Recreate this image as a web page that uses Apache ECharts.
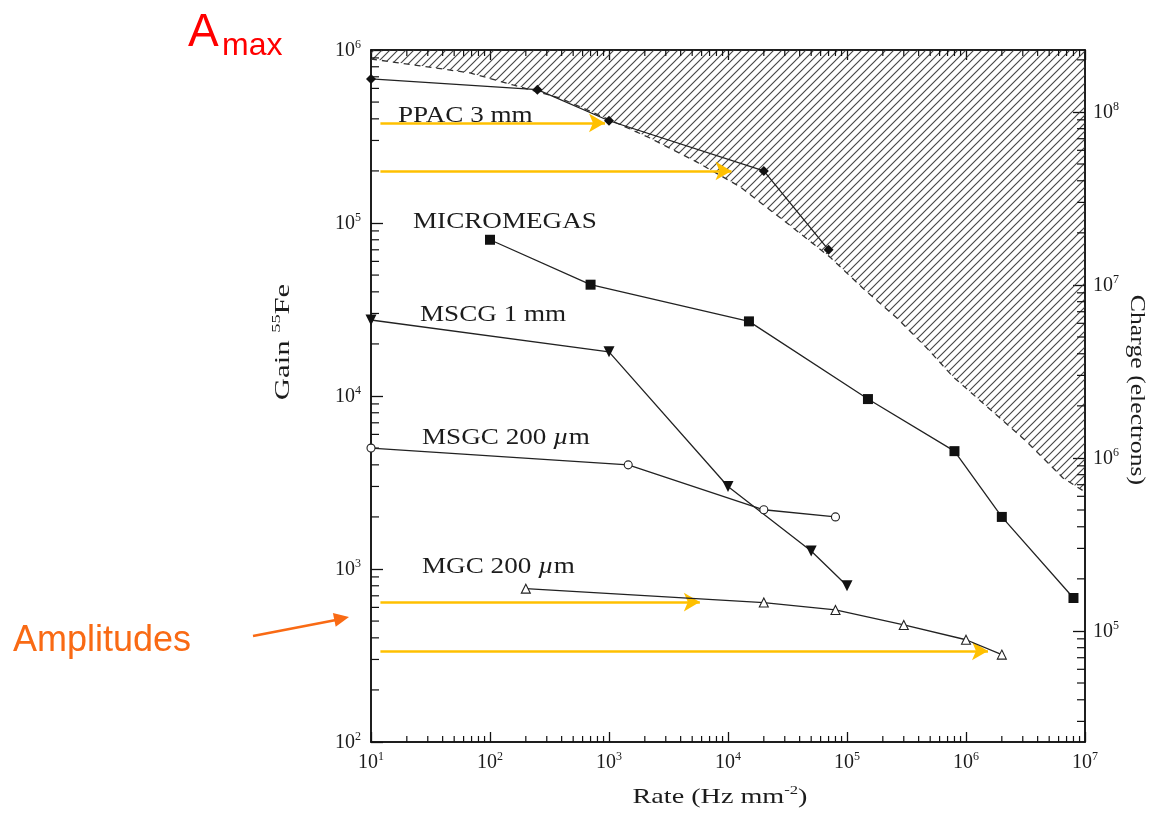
<!DOCTYPE html>
<html>
<head>
<meta charset="utf-8">
<script src="https://cdn.jsdelivr.net/npm/echarts@6/dist/echarts.min.js"></script>
<style>
  html, body { margin: 0; padding: 0; background: #fff; }
  #chart { width: 1155px; height: 816px; }
</style>
</head>
<body>
<div id="chart"></div>
<script>
// Rate (Hz mm^-2) and gain values for each detector
const ppacX = [10, 250, 1000, 2.0e4, 7.0e4];
const ppacY = [6.8e5, 5.9e5, 3.9e5, 2.0e5, 7.0e4];

const micromegasX = [100, 700, 1.5e4, 1.5e5, 8.0e5, 2.0e6, 8.0e6];
const micromegasY = [8.0e4, 4.4e4, 2.7e4, 9.6e3, 4.8e3, 2.0e3, 680];

const mscgX = [10, 1000, 1.0e4, 5.0e4, 1.0e5];
const mscgY = [2.75e4, 1.8e4, 3.0e3, 1.27e3, 800];

const msgcX = [10, 1450, 2.0e4, 8.0e4];
const msgcY = [5.0e3, 4.0e3, 2.2e3, 2.0e3];

const mgcX = [200, 2.0e4, 8.0e4, 3.0e5, 1.0e6, 2.0e6];
const mgcY = [770, 640, 580, 475, 390, 320];

// Space-charge limit (dashed boundary of the hatched region)
const limitX = [10, 26, 68, 156, 387, 1020, 2210, 5490, 1.26e4, 3.13e4, 7.2e4, 1.36e5, 2.63e5, 4.7e5, 7.8e5, 1.93e6, 3.26e6, 6.53e6, 1.0e7];
const limitY = [8.87e5, 8.1e5, 7.37e5, 6.28e5, 5.28e5, 3.94e5, 3.1e5, 2.25e5, 1.62e5, 1.0e5, 6.35e4, 4.2e4, 2.82e4, 1.89e4, 1.29e4, 7.46e3, 5.42e3, 3.36e3, 2.79e3];

// Amplitude arrows: [start rate, end rate, gain]
const arrowStartX = [12, 12, 12, 12];
const arrowEndX = [925, 1.07e4, 5.8e3, 1.53e6];
const arrowY = [3.79e5, 2.0e5, 644, 336];

// Axis ranges and tick values
const rateRange = [10, 1e7];
const gainRange = [100, 1e6];
const chargePerGain = 228; // electrons per unit gain for a 55Fe photon
const chargeRange = [gainRange[0] * chargePerGain, gainRange[1] * chargePerGain];
const mantissas = [2, 3, 4, 5, 6, 7, 8, 9];

function minorTicks(lo, hi) {
  const out = [];
  for (let e = Math.floor(Math.log10(lo)); e <= Math.ceil(Math.log10(hi)); e++) {
    for (const m of mantissas) {
      const v = m * Math.pow(10, e);
      if (v > lo && v < hi) out.push(v);
    }
  }
  return out;
}
const rateMinor = minorTicks(rateRange[0], rateRange[1]);
const gainMinor = minorTicks(gainRange[0], gainRange[1]);
const chargeMinor = minorTicks(chargeRange[0], chargeRange[1]);

const zip = (xs, ys) => xs.map((x, i) => [x, ys[i]]);

const SERIF = '"Liberation Serif", "Times New Roman", serif';
const SANS = '"Liberation Sans", Arial, sans-serif';
const INK = '#1c1c1c';

// Diagonal hatching for the forbidden region
const hatch = document.createElement('canvas');
hatch.width = 8; hatch.height = 8;
(function () {
  const c = hatch.getContext('2d');
  c.strokeStyle = 'rgba(50,50,50,0.9)';
  c.lineWidth = 1.15;
  c.beginPath();
  c.moveTo(0, 8); c.lineTo(8, 0);
  c.moveTo(-1, 1); c.lineTo(1, -1);
  c.moveTo(7, 9); c.lineTo(9, 7);
  c.stroke();
})();

const powLabel = v => {
  const e = Math.log10(v);
  if (Math.abs(e - Math.round(e)) > 1e-6) return '';
  return '{b|10}{s|' + Math.round(e) + '}';
};
const powRich = {
  b: { fontFamily: SERIF, fontSize: 20, color: INK, lineHeight: 22, verticalAlign: 'bottom' },
  s: { fontFamily: SERIF, fontSize: 12, color: INK, lineHeight: 12, verticalAlign: 'top' }
};
const titleRich = {
  n: { fontFamily: SERIF, fontSize: 22, fill: INK, lineHeight: 24, verticalAlign: 'bottom' },
  s: { fontFamily: SERIF, fontSize: 13, fill: INK, lineHeight: 13, verticalAlign: 'top' }
};
const nameRich = {
  n: { font: '24px ' + SERIF, fill: INK },
  i: { font: 'italic 24px ' + SERIF, fill: INK }
};

const axisLineStyle = { color: '#111', width: 1.5 };

const chart = echarts.init(document.getElementById('chart'));

const lineSeries = (name, xs, ys, symbol, size, filled, extra) => Object.assign({
  name, type: 'line', data: zip(xs, ys),
  symbol, symbolSize: size,
  lineStyle: { color: '#222', width: 1.3 },
  itemStyle: filled ? { color: '#111' } : { color: '#fff', borderColor: '#222', borderWidth: 1.1 },
  z: 5, animation: false
}, extra || {});

const nameText = (x, y, text) => ({
  type: 'text', x, y, scaleX: 1.13, z: 10,
  style: { text, textVerticalAlign: 'middle', rich: nameRich }
});

chart.setOption({
  animation: false,
  backgroundColor: '#fff',
  grid: { left: 371, right: 70, top: 50, bottom: 74, show: true, borderColor: '#111', borderWidth: 1.5 },
  xAxis: [
    {
      type: 'log', logBase: 10, min: rateRange[0], max: rateRange[1], position: 'bottom',
      axisLine: { show: true, lineStyle: axisLineStyle },
      axisTick: { show: true, inside: true, length: 10, lineStyle: { color: '#111', width: 1.3 } },
      axisLabel: { formatter: powLabel, rich: powRich, margin: 9 },
      splitLine: { show: false }
    },
    {
      type: 'log', logBase: 10, min: rateRange[0], max: rateRange[1], position: 'top',
      axisLine: { show: true, lineStyle: axisLineStyle },
      axisTick: { show: true, inside: true, length: 10, lineStyle: { color: '#111', width: 1.3 } },
      axisLabel: { show: false },
      splitLine: { show: false }
    }
  ],
  yAxis: [
    {
      type: 'log', logBase: 10, min: gainRange[0], max: gainRange[1], position: 'left',
      axisLine: { show: true, lineStyle: axisLineStyle },
      axisTick: { show: true, inside: true, length: 12, lineStyle: { color: '#111', width: 1.3 } },
      axisLabel: { formatter: powLabel, rich: powRich, margin: 10 },
      splitLine: { show: false }
    },
    {
      type: 'log', logBase: 10, min: chargeRange[0], max: chargeRange[1], position: 'right',
      axisLine: { show: true, lineStyle: axisLineStyle },
      axisTick: { show: true, inside: true, length: 12, lineStyle: { color: '#111', width: 1.3 } },
      axisLabel: { formatter: powLabel, rich: powRich, margin: 8, showMinLabel: false, showMaxLabel: false },
      splitLine: { show: false }
    }
  ],
  series: [
    {
      name: 'limit', type: 'line', data: zip(limitX, limitY), symbol: 'none', z: 1,
      lineStyle: { color: '#333', width: 1.3, type: [6, 5] },
      areaStyle: { origin: 'end', color: { image: hatch, repeat: 'repeat' }, opacity: 1 },
      silent: true
    },
    lineSeries('PPAC 3 mm', ppacX, ppacY, 'diamond', 10, true),
    lineSeries('MICROMEGAS', micromegasX, micromegasY, 'rect', 10, true),
    lineSeries('MSCG 1 mm', mscgX, mscgY, 'triangle', 11, true, { symbolRotate: 180 }),
    lineSeries('MSGC 200 µm', msgcX, msgcY, 'circle', 8, false),
    lineSeries('MGC 200 µm', mgcX, mgcY, 'triangle', 9, false),
    {
      name: 'amplitudes', type: 'line', data: [], z: 8,
      markLine: {
        silent: true, animation: false,
        symbol: ['none', 'arrow'], symbolSize: [14, 16],
        label: { show: false },
        lineStyle: { color: '#FFC000', width: 2.6, type: 'solid' },
        data: arrowY.map((y, i) => [{ coord: [arrowStartX[i], y] }, { coord: [arrowEndX[i], y] }])
      }
    },
    {
      name: 'rateMinor', type: 'custom', silent: true, clip: false, z: 3,
      data: rateMinor.map(v => [v, gainRange[0]]),
      renderItem: (params, api) => {
        const v = api.value(0);
        const b = api.coord([v, gainRange[0]]);
        const t = api.coord([v, gainRange[1]]);
        const st = { stroke: '#111', lineWidth: 1.2 };
        return { type: 'group', children: [
          { type: 'line', shape: { x1: b[0], y1: b[1], x2: b[0], y2: b[1] - 6 }, style: st },
          { type: 'line', shape: { x1: t[0], y1: t[1], x2: t[0], y2: t[1] + 6 }, style: st }
        ] };
      }
    },
    {
      name: 'gainMinor', type: 'custom', silent: true, clip: false, z: 3,
      data: gainMinor.map(v => [rateRange[0], v]),
      renderItem: (params, api) => {
        const p = api.coord([rateRange[0], api.value(1)]);
        return { type: 'line', shape: { x1: p[0], y1: p[1], x2: p[0] + 8, y2: p[1] }, style: { stroke: '#111', lineWidth: 1.2 } };
      }
    },
    {
      name: 'chargeMinor', type: 'custom', silent: true, clip: false, z: 3, yAxisIndex: 1,
      data: chargeMinor.map(v => [rateRange[1], v]),
      renderItem: (params, api) => {
        const p = api.coord([rateRange[1], api.value(1)]);
        return { type: 'line', shape: { x1: p[0], y1: p[1], x2: p[0] - 8, y2: p[1] }, style: { stroke: '#111', lineWidth: 1.2 } };
      }
    }
  ],
  graphic: [
    // curve names
    nameText(398, 116, '{n|PPAC 3 mm}'),
    nameText(413, 222, '{n|MICROMEGAS}'),
    nameText(420, 315, '{n|MSCG 1 mm}'),
    nameText(422, 438, '{n|MSGC 200 }{i|µ}{n|m}'),
    nameText(422, 567, '{n|MGC 200 }{i|µ}{n|m}'),
    // axis titles
    { type: 'text', x: 720, y: 796, scaleX: 1.28, style: {
        text: '{n|Rate (Hz mm}{s|-2}{n|)}', textAlign: 'center', textVerticalAlign: 'middle', rich: titleRich } },
    { type: 'text', x: 282, y: 342, rotation: Math.PI / 2, scaleX: 1.4, style: {
        text: '{n|Gain }{s|55}{n|Fe}', textAlign: 'center', textVerticalAlign: 'middle', rich: titleRich } },
    { type: 'text', x: 1137, y: 390, rotation: -Math.PI / 2, scaleX: 1.17, style: {
        text: 'Charge (electrons)', font: '22px ' + SERIF, fill: INK, textAlign: 'center', textVerticalAlign: 'middle' } },
    // annotations
    { type: 'text', x: 188, y: 10, style: { text: 'A', font: '46px ' + SANS, fill: '#FF0000' } },
    { type: 'text', x: 222, y: 30, style: { text: 'max', font: '32px ' + SANS, fill: '#FF0000' } },
    { type: 'text', x: 13, y: 623, style: { text: 'Amplitudes', font: '36px ' + SANS, fill: '#F96A14' } },
    { type: 'line', shape: { x1: 253, y1: 636, x2: 336, y2: 620 }, style: { stroke: '#F96A14', lineWidth: 2.5 } },
    { type: 'polygon', shape: { points: [[349, 617], [335.7, 626.8], [332.9, 613.0]] }, style: { fill: '#F96A14' } }
  ]
});
</script>
</body>
</html>
